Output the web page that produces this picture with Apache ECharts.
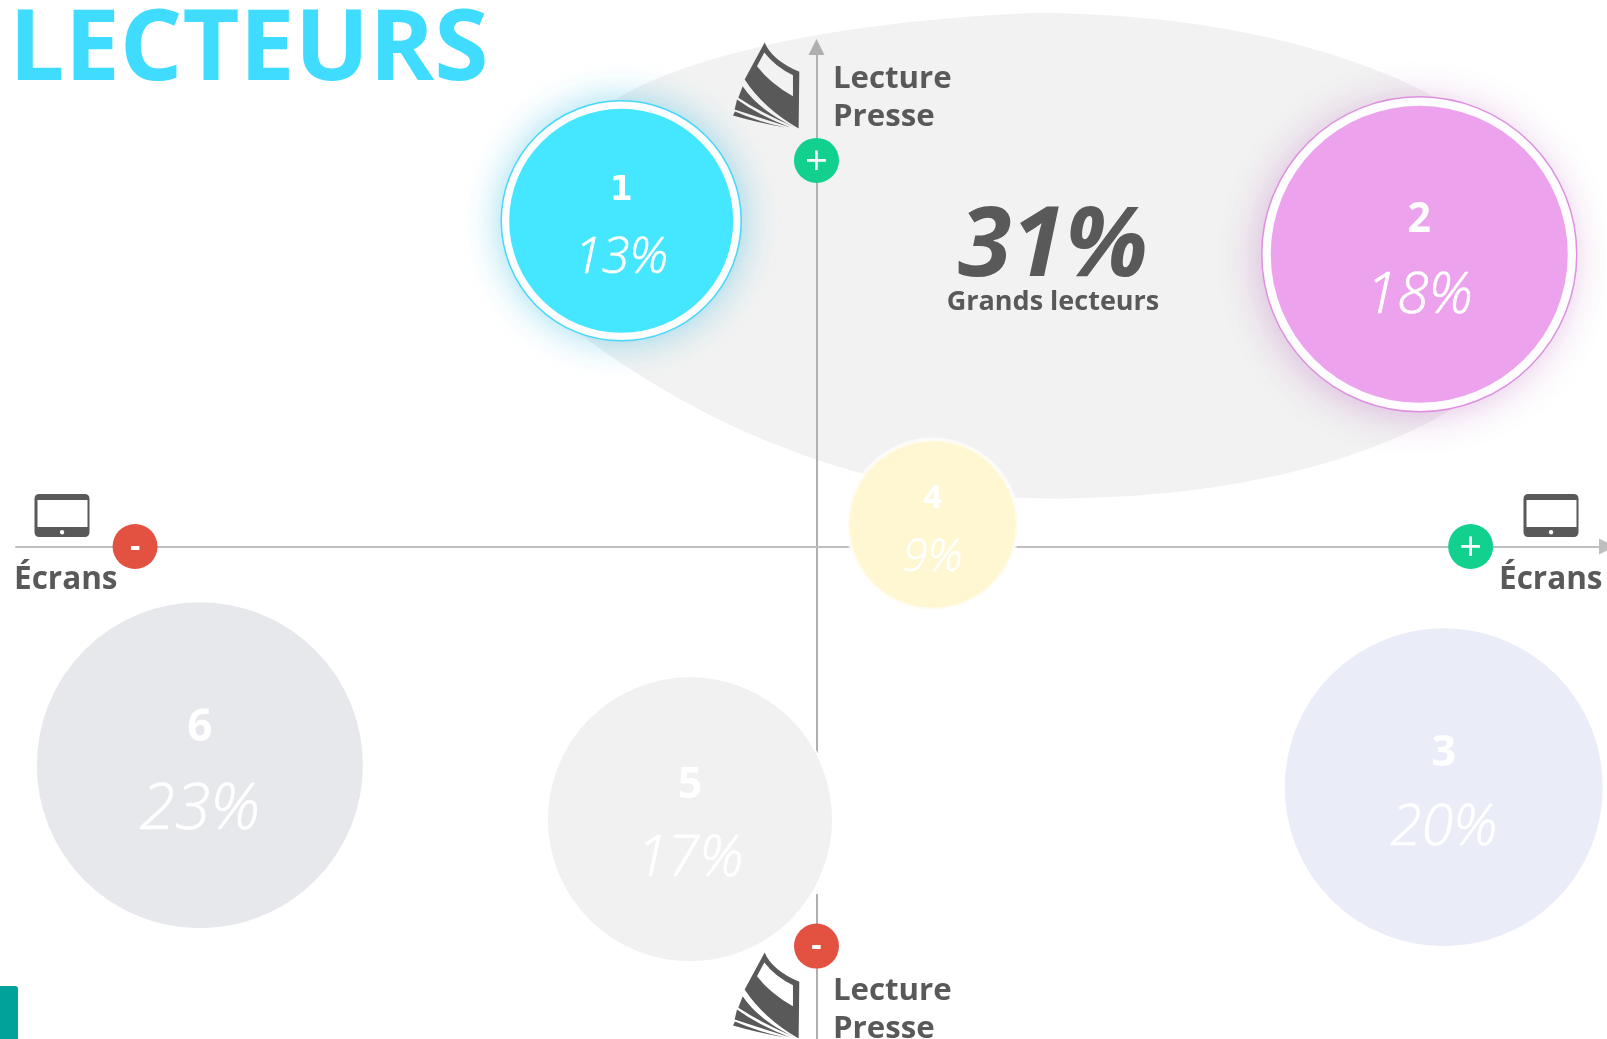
<!DOCTYPE html>
<html><head><meta charset="utf-8">
<style>html,body{margin:0;padding:0;background:#fff}#c{width:1607px;height:1039px}</style>
<script src="https://cdn.jsdelivr.net/npm/echarts@6/dist/echarts.min.js"></script>
</head><body><div id="c"></div>
<script>
// ---- data ----
const bubbleIds = ['1','2','3','4','5','6'];
const bubbleShares = [13,18,20,9,17,23];
const bubbleScreens = [-24.7,76.25,79.35,14.7,-16.0,-78.0];  // Écrans axis
const bubblePress = [65.2,58.5,-48.2,4.4,-54.6,-43.8];       // Lecture Presse axis
const bubbleDiameters = [224,297,320,170,286,328];
const highlightedBubbles = [0,1];
// outline of the "Grands lecteurs" zone: start point, then control/control/end triples
const ovalScreens = [-32.0,-27.4,-2.1,27.3,66.0,94.0,94.0,94.0,68.5,29.6,7.4,-14.8,-33.7,-32.0];
const ovalPress = [79.2,95.2,104.8,106.8,106.8,84.6,58.2,31.8,9.6,9.6,9.6,22.8,47.2,79.2];
const oppositeShare = '31%';
const oppositeLabel = 'Grands lecteurs';
const signX = [-86.2,82.75,0,0];
const signY = [0,0,77.3,-80];
const signLabels = ['-','+','+','-'];
const axisGapX = [0,0];
const axisGapY = [-66.6,-69.6];

// ---- styling ----
const GREY='#595959', F='"Open Sans","Noto Sans",sans-serif';
const fills=['#45E6FF','#ECA2EC','#EAEDF7','#FFF7D1','#F1F1F1','#E7E8EC'];
const ringColors=['#45D8F8','#DE90E0'];
const glow=['rgba(40,185,225,0.45)','rgba(190,120,195,0.42)'];
const ringDiam=[240,315];
const numSize=[33,41,43,33,43,44], pctSize=[50,57,57,45,57,64], lh=[67,76,76,60,74,82];
const borders=[0,0,2,4,2,2], borderCols=['#fff','#fff','#fff','rgba(255,255,255,.65)','#fff','#fff'];

const book='M193 67 Q215 120 297 155 L295 325 Q190 265 133 178 Z M192 97 L170 138 Q210 190 278 228 L278 165 Q225 140 192 97 Z M127 198 Q175 270 285 322 Q185 280 114 233 Z M110 238 Q175 285 270 322 Q170 290 103 268 Z M104 274 Q175 305 255 322 Q170 307 98 286 Z';
const tablet='M5 0 H50 Q55 0 55 5 V38 Q55 43 50 43 H5 Q0 43 0 38 V5 Q0 0 5 0 Z M3 6 V33 H53 V6 Z M27.5 36 A2.2 2.2 0 1 0 27.6 36 Z';
const icons=[[book,733,42.5,66.3,86],[book,733,952.5,66.3,86],[tablet,34.5,494,55,43],[tablet,1523.5,494,55,43]];
function txt(x,y,t,size,weight,align,style,color){return {type:'text',z:20,x,y,style:{text:t,fill:color||GREY,align:align||'left',verticalAlign:'bottom',font:`${style||'normal'} ${weight||700} ${size}px ${F}`}};}

const chart=echarts.init(document.getElementById('c'),null,{renderer:'canvas'});
const axisBase=()=>({type:'value',z:3,splitLine:{show:false},axisTick:{show:false},axisLabel:{show:false}});
chart.setOption({
  animation:false,backgroundColor:'#fff',
  title:{text:'LECTEURS',left:4,top:-3,textStyle:{color:'#3FDCFF',fontFamily:F,fontWeight:700,fontSize:98.5}},
  grid:{left:16,top:47,width:1594,height:993,containLabel:false},
  xAxis:Object.assign(axisBase(),{min:-101.26,max:100,axisLine:{show:true,onZero:true,symbol:['none','triangle'],symbolSize:[16,16],lineStyle:{color:'#BFBFBF',width:2}}}),
  yAxis:Object.assign(axisBase(),{min:-98.6,max:100,axisLine:{show:true,onZero:true,symbol:['none','triangle'],symbolSize:[16,16],lineStyle:{color:'#B0B0B0',width:2}}}),
  graphic:[
    txt(833,95,'Lecture',31.2),txt(833,133,'Presse',31.2),
    txt(833,1007,'Lecture',31.2),txt(833,1045,'Presse',31.2),
    txt(14,596,'Écrans',31.5),txt(1499,596,'Écrans',31.5),
    txt(1053,297,oppositeShare,97,700,'center','italic'),
    txt(1053,316,oppositeLabel,27,700,'center'),
    {type:'rect',z:20,shape:{x:-6,y:986,width:24,height:60,r:[0,3,0,0]},style:{fill:'#00A29A'}}
  ],
  series:[
    {type:'custom',z:1,silent:true,clip:false,coordinateSystem:'cartesian2d',data:[[0,0]],
     renderItem:(p,api)=>{
       const pts=ovalScreens.map((x,i)=>api.coord([x,ovalPress[i]]));
       let d='M'+pts[0].join(' ');
       for(let i=1;i+2<pts.length;i+=3)d+=' C'+pts[i].join(' ')+' '+pts[i+1].join(' ')+' '+pts[i+2].join(' ');
       return {type:'path',shape:{pathData:d+' Z'},style:{fill:'#F2F2F2'}};
     }},
    {type:'line',z:3.5,silent:true,clip:false,symbol:'none',lineStyle:{color:'#fff',width:4},data:axisGapX.map((x,i)=>[x,axisGapY[i]])},
    {type:'scatter',z:4,silent:true,clip:false,
     data:highlightedBubbles.map((b,i)=>({value:[bubbleScreens[b],bubblePress[b]],symbolSize:ringDiam[i],
       itemStyle:{color:'#fff',borderColor:ringColors[i],borderWidth:1.5,shadowBlur:36,shadowColor:glow[i],shadowOffsetX:i?-4:0,shadowOffsetY:i?4:0,opacity:1}}))},
    {type:'scatter',z:5,silent:true,clip:false,
     data:bubbleIds.map((id,i)=>({value:[bubbleScreens[i],bubblePress[i]],symbolSize:bubbleDiameters[i],
       itemStyle:{color:fills[i],borderColor:borderCols[i],borderWidth:borders[i],opacity:1},
       label:{show:true,position:'inside',offset:[0,4],formatter:`{n|${id}}\n{p|${bubbleShares[i]}%}`,
         rich:{n:{fontFamily:id==='1'?'"DejaVu Sans"':F,fontWeight:700,fontSize:numSize[i],lineHeight:lh[i],color:'#fff',align:'center'},
               p:{fontFamily:F,fontStyle:'italic',fontWeight:300,fontSize:pctSize[i],lineHeight:lh[i],color:'#fff',align:'center',textBorderColor:'#fff',textBorderWidth:0.7}}}}))},
    {type:'scatter',z:6,silent:true,clip:false,symbolSize:45,
     data:signX.map((x,i)=>{const plus=signLabels[i]==='+';return {value:[x,signY[i]],itemStyle:{opacity:1,color:plus?'#12D08E':'#E35141'},
       label:{show:true,position:'inside',formatter:signLabels[i],color:'#fff',fontFamily:F,fontWeight:plus?400:700,fontSize:plus?40:32,offset:[0,plus?3:1]}};})},
    {type:'custom',z:20,silent:true,clip:false,coordinateSystem:'none',data:icons.map((_,i)=>i),
     renderItem:(p)=>{const c=icons[p.dataIndex];return {type:'path',shape:{pathData:c[0],x:c[1],y:c[2],width:c[3],height:c[4]},style:{fill:GREY}};}}
  ]
});
</script></body></html>
